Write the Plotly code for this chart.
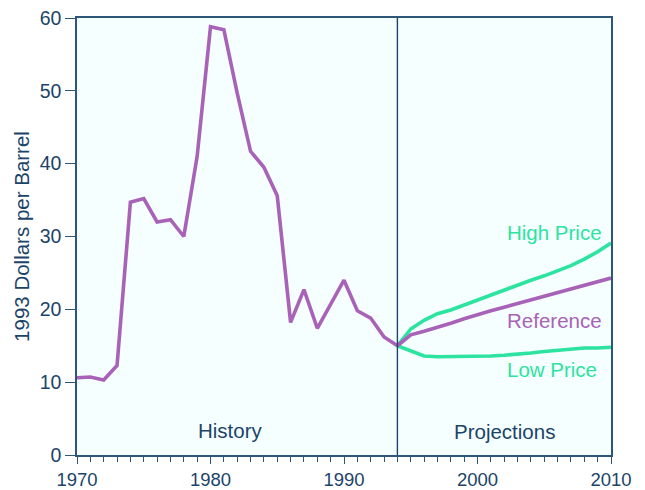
import plotly.graph_objects as go

hist_years = list(range(1970, 1995))
hist_price = [10.6, 10.7, 10.3, 12.3, 34.7, 35.2, 32.0, 32.3, 30.0, 41.0,
              58.8, 58.4, 49.7, 41.7, 39.5, 35.6, 18.2, 22.7, 17.4, 20.8,
              24.0, 19.8, 18.8, 16.2, 15.0]

proj_years = list(range(1994, 2011))
reference = [15.0, 16.5, 17.0, 17.5, 18.1, 18.7, 19.3, 19.8, 20.3, 20.8,
             21.3, 21.8, 22.3, 22.8, 23.2, 23.7, 24.3]
high_price = [15.0, 17.3, 18.5, 19.4, 19.9, 20.6, 21.3, 22.0, 22.7, 23.4,
              24.0, 24.6, 25.3, 26.0, 26.9, 27.9, 29.1]
low_price = [15.0, 14.3, 13.6, 13.5, 13.5, 13.5, 13.6, 13.6, 13.7, 13.8,
             14.0, 14.2, 14.4, 14.6, 14.7, 14.7, 14.8]

projection_start = 1994

PURPLE = "#A862B8"
GREEN = "#2DE3A0"
NAVY = "#1B4468"
AXIS = "#2E5676"

fig = go.Figure()
fig.add_trace(go.Scatter(x=proj_years, y=high_price, mode="lines",
                         line=dict(color=GREEN, width=3.6), hoverinfo="skip"))
fig.add_trace(go.Scatter(x=proj_years, y=low_price, mode="lines",
                         line=dict(color=GREEN, width=3.6), hoverinfo="skip"))
fig.add_trace(go.Scatter(x=proj_years, y=reference, mode="lines",
                         line=dict(color=PURPLE, width=3.6), hoverinfo="skip"))
fig.add_trace(go.Scatter(x=hist_years, y=hist_price, mode="lines",
                         line=dict(color=PURPLE, width=3.6), hoverinfo="skip"))

fig.add_shape(type="line", xref="x", yref="paper", x0=projection_start, x1=projection_start,
              y0=0, y1=1, line=dict(color=NAVY, width=1.4))

font = "Liberation Sans, Arial, sans-serif"
annots = [
    ("High Price", 2005.8, 30.5, GREEN),
    ("Reference", 2005.8, 18.5, PURPLE),
    ("Low Price", 2005.6, 11.8, GREEN),
    ("History", 1981.5, 3.4, NAVY),
    ("Projections", 2002.0, 3.2, NAVY),
]
for text, x, y, color in annots:
    fig.add_annotation(x=x, y=y, xref="x", yref="y", text=text, showarrow=False,
                       font=dict(family=font, size=20.5, color=color), xanchor="center",
                       yanchor="middle")

fig.update_layout(
    width=645, height=490,
    margin=dict(l=69, r=42, t=10, b=43),
    paper_bgcolor="white",
    plot_bgcolor="#F5FFFF",
    showlegend=False,
    font=dict(family=font, color=NAVY),
)
fig.update_xaxes(
    range=[1970, 2010], tickmode="array", tickvals=[1970, 1980, 1990, 2000, 2010],
    ticks="outside", ticklen=7, tickwidth=1.3, tickcolor=AXIS,
    minor=dict(dtick=1, tick0=1970, ticks="outside", ticklen=5, tickwidth=1.2, tickcolor=AXIS),
    showline=True, linecolor=AXIS, linewidth=1.5, mirror=True,
    showgrid=False, zeroline=False, automargin=False, ticklabeloverflow="allow",
    tickfont=dict(size=18.5, color=NAVY, family=font),
)
fig.update_yaxes(
    range=[0, 60], tickvals=[0, 10, 20, 30, 40, 50, 60],
    ticks="outside", ticklen=10, tickwidth=1.3, tickcolor=AXIS,
    showline=True, linecolor=AXIS, linewidth=1.5, mirror=True,
    showgrid=False, zeroline=False, automargin=False, ticklabeloverflow="allow",
    tickfont=dict(size=19.5, color=NAVY, family=font),
    title=dict(text="1993 Dollars per Barrel", font=dict(size=20.5, color=NAVY, family=font),
               standoff=4),
)

fig.write_html("out.html")
